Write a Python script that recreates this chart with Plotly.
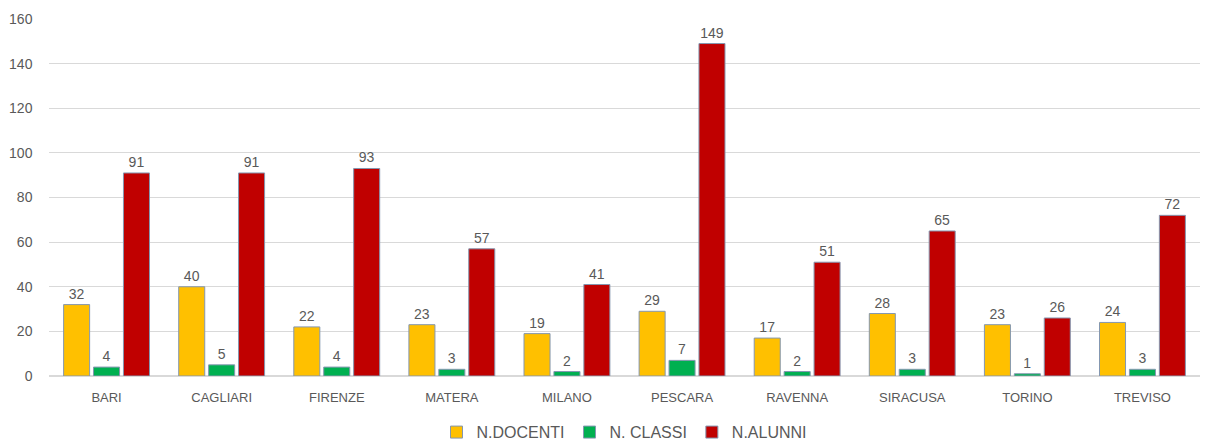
import plotly.graph_objects as go

cities = ["BARI", "CAGLIARI", "FIRENZE", "MATERA", "MILANO", "PESCARA", "RAVENNA", "SIRACUSA", "TORINO", "TREVISO"]
docenti = [32, 40, 22, 23, 19, 29, 17, 28, 23, 24]
classi = [4, 5, 4, 3, 2, 7, 2, 3, 1, 3]
alunni = [91, 91, 93, 57, 41, 149, 51, 65, 26, 72]

series = [
    ("N.DOCENTI", docenti, "#FFC000"),
    ("N. CLASSI", classi, "#00B050"),
    ("N.ALUNNI", alunni, "#C00000"),
]

fig = go.Figure()
for name, vals, col in series:
    fig.add_trace(go.Bar(
        x=cities, y=vals, name=name,
        marker=dict(color=col, line=dict(color="#8497B0", width=1)),
        text=vals, textposition="outside", cliponaxis=False,
        textfont=dict(color="#595959", size=14),
    ))

fig.update_layout(
    width=1210, height=441,
    paper_bgcolor="white", plot_bgcolor="white",
    margin=dict(l=49, r=10, t=19, b=65, autoexpand=False),
    barmode="group", bargap=0.22, bargroupgap=0.13,
    font=dict(family="Liberation Sans, Arial, sans-serif", color="#595959", size=13),
    showlegend=True,
    legend=dict(orientation="h", x=0.5, xanchor="center", yref="container", y=0.02, yanchor="middle",
                font=dict(size=16, color="#595959"), itemwidth=30, traceorder="normal"),
    xaxis=dict(showgrid=False, ticks="", tickfont=dict(size=13, color="#595959"),
               showline=False, automargin=False, ticklabelstandoff=12),
    yaxis=dict(range=[0, 160], dtick=20, gridcolor="#D9D9D9", zeroline=True,
               zerolinecolor="#D9D9D9", tickfont=dict(size=14, color="#595959"),
               ticksuffix="    ", automargin=False),
)

fig.write_html("out.html", config={"displayModeBar": False},
               post_script="document.body.style.margin='0';document.body.style.overflow='hidden';")
